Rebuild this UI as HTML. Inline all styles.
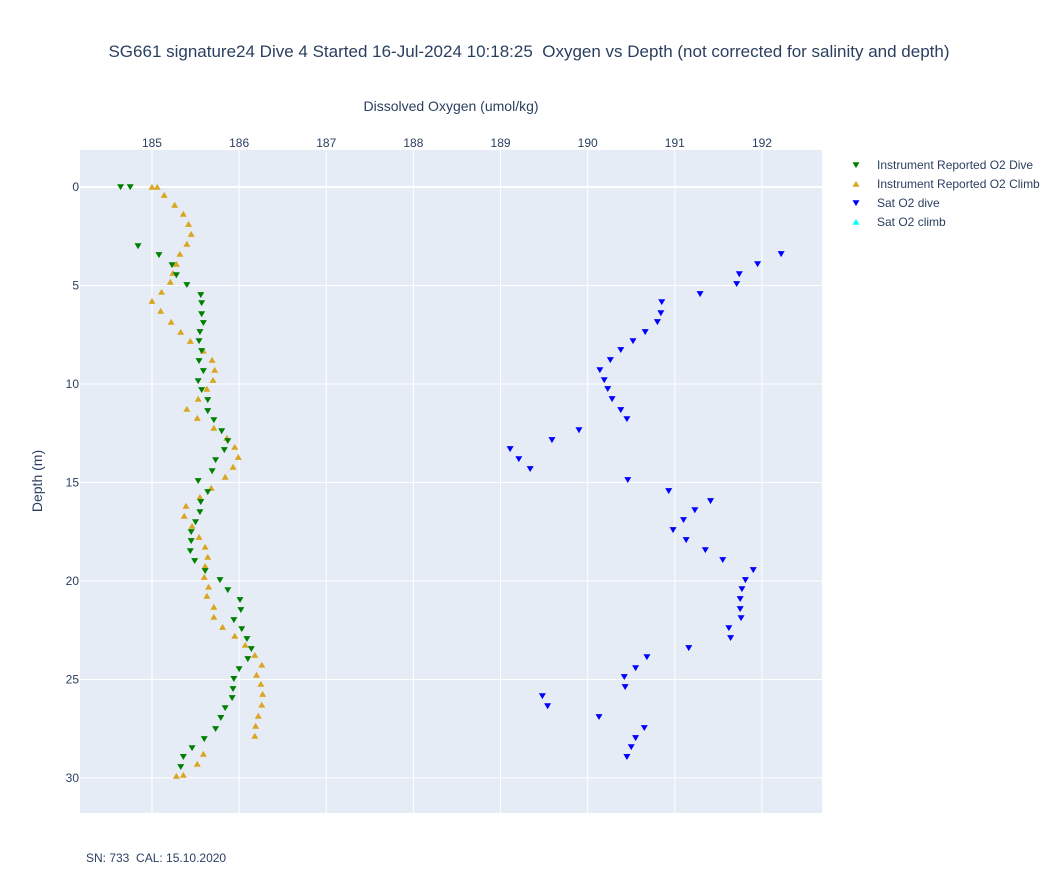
<!DOCTYPE html>
<html><head><meta charset="utf-8"><style>
html,body{margin:0;padding:0;background:#fff;}
svg{display:block;font-family:"Liberation Sans",Arial,sans-serif;}
svg text{white-space:pre;}
</style></head><body>
<svg id="chart" width="1058" height="894" viewBox="0 0 1058 894" xml:space="preserve">
<text x="529" y="57" text-anchor="middle" font-size="17" fill="#2a3f5f">SG661 signature24 Dive 4 Started 16-Jul-2024 10:18:25  Oxygen vs Depth (not corrected for salinity and depth)</text>
<rect x="80" y="150" width="742" height="663" fill="#e5ecf6"/>
<g id="grid"></g>
<g id="ticks"></g>
<g id="marks"></g>
<text x="451" y="111" text-anchor="middle" font-size="14" fill="#2a3f5f">Dissolved Oxygen (umol/kg)</text>
<text x="42" y="481" text-anchor="middle" font-size="14" fill="#2a3f5f" transform="rotate(-90 42 481)">Depth (m)</text>
<text x="86" y="862" font-size="12" fill="#2a3f5f">SN: 733  CAL: 15.10.2020</text>
<g id="legend"></g>
</svg>
<script>
const xTicks=[185,186,187,188,189,190,191,192];
const yTicks=[0,5,10,15,20,25,30];
const diveO2=[184.64,184.75,184.84,185.08,185.23,185.28,185.40,185.56,185.57,185.57,185.59,185.55,185.54,185.57,185.54,185.59,185.53,185.57,185.64,185.64,185.71,185.80,185.87,185.83,185.73,185.69,185.53,185.64,185.56,185.55,185.50,185.45,185.45,185.44,185.49,185.61,185.78,185.87,186.01,186.02,185.94,186.03,186.09,186.14,186.10,186.00,185.94,185.93,185.92,185.84,185.79,185.73,185.60,185.46,185.36,185.33];
const diveDepth=[0,0,3.0,3.45,3.96,4.47,4.97,5.48,5.89,6.45,6.9,7.36,7.82,8.32,8.83,9.34,9.85,10.3,10.81,11.37,11.83,12.39,12.89,13.35,13.86,14.42,14.92,15.48,15.99,16.5,17.01,17.51,17.97,18.48,18.98,19.49,19.95,20.46,20.96,21.47,21.98,22.44,22.94,23.45,23.96,24.47,24.97,25.48,25.94,26.45,26.95,27.51,28.02,28.48,28.93,29.44];
const climbO2=[185.00,185.06,185.14,185.26,185.36,185.42,185.45,185.40,185.32,185.28,185.24,185.21,185.11,185.00,185.10,185.22,185.33,185.44,185.59,185.69,185.72,185.70,185.63,185.53,185.40,185.52,185.71,185.86,185.95,185.99,185.93,185.84,185.68,185.55,185.39,185.37,185.46,185.54,185.61,185.64,185.61,185.60,185.65,185.63,185.71,185.71,185.81,185.95,186.07,186.18,186.26,186.20,186.25,186.27,186.26,186.22,186.19,186.18,185.59,185.52,185.36,185.28];
const climbDepth=[0,0,0.41,0.91,1.37,1.88,2.39,2.89,3.4,3.91,4.37,4.82,5.33,5.79,6.29,6.85,7.36,7.82,8.32,8.78,9.29,9.8,10.25,10.76,11.27,11.73,12.23,12.74,13.2,13.71,14.21,14.72,15.28,15.74,16.19,16.7,17.21,17.77,18.27,18.78,19.24,19.8,20.3,20.76,21.32,21.83,22.34,22.79,23.25,23.76,24.26,24.77,25.23,25.74,26.29,26.85,27.36,27.87,28.78,29.29,29.85,29.9];
const satDiveO2=[192.22,191.95,191.74,191.71,191.29,190.85,190.84,190.80,190.66,190.52,190.38,190.26,190.14,190.19,190.23,190.28,190.38,190.45,189.90,189.59,189.11,189.21,189.34,190.46,190.93,191.41,191.23,191.10,190.98,191.13,191.35,191.55,191.90,191.81,191.77,191.75,191.75,191.76,191.62,191.64,191.16,190.68,190.55,190.42,190.43,189.48,189.54,190.13,190.65,190.55,190.50,190.45];
const satDiveDepth=[3.4,3.91,4.42,4.92,5.43,5.84,6.4,6.85,7.36,7.82,8.27,8.78,9.29,9.8,10.25,10.76,11.32,11.78,12.34,12.84,13.3,13.81,14.31,14.87,15.43,15.94,16.4,16.9,17.41,17.92,18.43,18.93,19.44,19.95,20.41,20.91,21.42,21.88,22.39,22.89,23.4,23.86,24.42,24.87,25.38,25.84,26.35,26.9,27.46,27.97,28.43,28.93];
const satClimbO2=[];
const satClimbDepth=[];
const legendNames=["Instrument Reported O2 Dive","Instrument Reported O2 Climb","Sat O2 dive","Sat O2 climb"];

const NS="http://www.w3.org/2000/svg";
const X0=80,X1=822,Y0=150,Y1=813;
const xMin=184.174,xMax=192.689,yMin=-1.878,yMax=31.78;
function xs(v){return X0+(v-xMin)/(xMax-xMin)*(X1-X0);}
function ys(d){return Y0+(d-yMin)/(yMax-yMin)*(Y1-Y0);}
function mk(tag,attrs,parent){const e=document.createElementNS(NS,tag);for(const k in attrs)e.setAttribute(k,attrs[k]);parent.appendChild(e);return e;}
const grid=document.getElementById('grid'),ticks=document.getElementById('ticks'),marks=document.getElementById('marks'),legend=document.getElementById('legend');
xTicks.forEach(t=>{
  const l=mk('line',{x1:xs(t),x2:xs(t),y1:Y0,y2:Y1,stroke:'#fff','stroke-width':1},grid);
  
  
  const tx=mk('text',{x:xs(t),y:147,'text-anchor':'middle','font-size':12,fill:'#2a3f5f'},ticks);
  tx.textContent=t;
  
  
});
yTicks.forEach(t=>{
  const l=mk('line',{x1:X0,x2:X1,y1:ys(t),y2:ys(t),stroke:'#fff','stroke-width':t===0?2:1},grid);
  
  
  const tx=mk('text',{x:79,y:ys(t)+4,'text-anchor':'end','font-size':12,fill:'#2a3f5f'},ticks);
  tx.textContent=t;
  
  
});
function tri(cx,cy,down,color,parent){
  const s=3.5;
  const pts=down?`${cx-s},${cy-s*0.8} ${cx+s},${cy-s*0.8} ${cx},${cy+s*0.9}`:`${cx-s},${cy+s*0.8} ${cx+s},${cy+s*0.8} ${cx},${cy-s*0.9}`;
  return mk('polygon',{points:pts,fill:color},parent);
}
function series(xv,yv,down,color,name){
  const g=mk('g',{},marks);
  
  
  for(let i=0;i<xv.length;i++){
    const p=tri(xs(xv[i]),ys(yv[i]),down,color,g);
    
    
  }
}
series(climbO2,climbDepth,false,'#daa520','o2-climb-series');
series(diveO2,diveDepth,true,'#008000','o2-dive-series');
series(satDiveO2,satDiveDepth,true,'#0000ff','sat-o2-dive-series');
series(satClimbO2,satClimbDepth,false,'#00ffff','sat-o2-climb-series');
const lc=['#008000','#daa520','#0000ff','#00ffff'],ld=[true,false,true,false];
legendNames.forEach((n,i)=>{
  const y=165+i*19;
  const g=mk('g',{},legend);
  
  
  tri(856,y,ld[i],lc[i],g);
  const t=mk('text',{x:877,y:y+4,'font-size':12,fill:'#2a3f5f'},g);
  t.textContent=n;
});
</script>
</body></html>
